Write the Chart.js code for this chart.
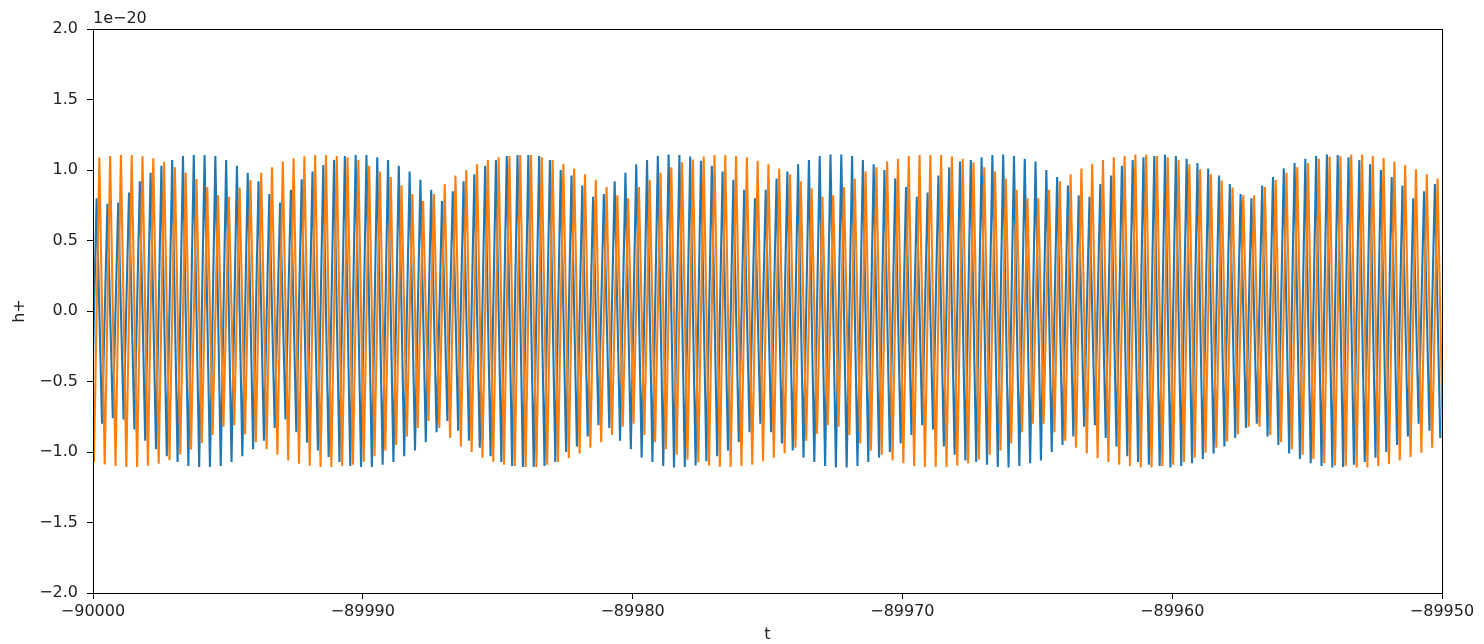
<!DOCTYPE html>
<html>
<head>
<meta charset="utf-8">
<script src="https://cdn.jsdelivr.net/npm/chart.js@4.4.1/dist/chart.umd.min.js"></script>
<style>
  html, body { margin: 0; padding: 0; background: #fff; }
  #wrap { position: relative; width: 1484px; height: 644px; }
</style>
</head>
<body>
<div id="wrap"><canvas id="chart"></canvas></div>
<script>
// time origin of the window, and the crest times of the blue wave (seconds after T0)
const T0 = -90000;
const crestT = [-0.265,
  0.135, 0.535, 0.935, 1.335, 1.735, 2.135, 2.535, 2.935, 3.335, 3.735,
  4.135, 4.535, 4.935, 5.335, 5.735, 6.135, 6.535, 6.935, 7.335, 7.735,
  8.135, 8.535, 8.935, 9.335, 9.735, 10.135, 10.535, 10.935, 11.335, 11.735,
  12.135, 12.535, 12.935, 13.335, 13.735, 14.135, 14.535, 14.935, 15.335, 15.735,
  16.135, 16.535, 16.935, 17.335, 17.735, 18.135, 18.535, 18.935, 19.335, 19.735,
  20.135, 20.535, 20.935, 21.335, 21.735, 22.135, 22.535, 22.935, 23.335, 23.735,
  24.135, 24.535, 24.935, 25.335, 25.735, 26.135, 26.535, 26.935, 27.335, 27.735,
  28.135, 28.535, 28.935, 29.335, 29.735, 30.135, 30.535, 30.935, 31.335, 31.735,
  32.135, 32.535, 32.935, 33.335, 33.735, 34.135, 34.535, 34.935, 35.335, 35.735,
  36.135, 36.535, 36.935, 37.335, 37.735, 38.135, 38.535, 38.935, 39.335, 39.735,
  40.135, 40.535, 40.935, 41.335, 41.735, 42.135, 42.535, 42.935, 43.335, 43.735,
  44.135, 44.535, 44.935, 45.335, 45.735, 46.135, 46.535, 46.935, 47.335, 47.735,
  48.135, 48.535, 48.935, 49.335, 49.735];
// orange crests come a quarter period after the blue ones
const quarter = 0.1;

// h+ crest / trough heights (units of 1e-20), one per cycle
const blueCrest = [
  0.86, 0.80, 0.76, 0.77, 0.84, 0.92, 0.98, 1.03, 1.07, 1.10,
  1.106, 1.106, 1.10, 1.07, 1.03, 0.98, 0.92, 0.83, 0.77, 0.86,
  0.935, 0.99, 1.035, 1.07, 1.10, 1.106, 1.106, 1.09, 1.07, 1.03,
  0.99, 0.93, 0.86, 0.78, 0.85, 0.92, 0.97, 1.03, 1.07, 1.10,
  1.106, 1.106, 1.10, 1.07, 1.00, 0.96, 0.89, 0.81, 0.83, 0.92,
  0.98, 1.04, 1.07, 1.10, 1.11, 1.106, 1.095, 1.065, 1.03, 0.99,
  0.93, 0.86, 0.80, 0.86, 0.94, 0.99, 1.04, 1.07, 1.10, 1.11,
  1.11, 1.10, 1.07, 1.04, 1.00, 0.94, 0.88, 0.81, 0.84, 0.96,
  1.02, 1.06, 1.07, 1.09, 1.106, 1.11, 1.10, 1.08, 1.06, 1.00,
  0.95, 0.89, 0.82, 0.81, 0.90, 0.96, 1.03, 1.07, 1.09, 1.10,
  1.11, 1.10, 1.08, 1.05, 1.01, 0.96, 0.90, 0.83, 0.80, 0.89,
  0.95, 1.01, 1.05, 1.08, 1.10, 1.11, 1.106, 1.09, 1.07, 1.04,
  1.00, 0.95, 0.89, 0.80, 0.85, 0.90];
const blueTrough = [
  -0.86, -0.80, -0.76, -0.77, -0.84, -0.92, -0.98, -1.03, -1.07, -1.10,
  -1.106, -1.106, -1.10, -1.07, -1.03, -0.98, -0.92, -0.83, -0.77, -0.86,
  -0.935, -0.99, -1.035, -1.07, -1.10, -1.106, -1.106, -1.09, -1.07, -1.03,
  -0.99, -0.93, -0.86, -0.78, -0.85, -0.92, -0.97, -1.03, -1.07, -1.10,
  -1.106, -1.106, -1.10, -1.07, -1.00, -0.96, -0.89, -0.81, -0.83, -0.92,
  -0.98, -1.04, -1.07, -1.10, -1.11, -1.106, -1.095, -1.065, -1.03, -0.99,
  -0.93, -0.86, -0.80, -0.86, -0.94, -0.99, -1.04, -1.07, -1.10, -1.11,
  -1.11, -1.10, -1.07, -1.04, -1.00, -0.94, -0.88, -0.81, -0.84, -0.96,
  -1.02, -1.06, -1.07, -1.09, -1.106, -1.11, -1.10, -1.08, -1.06, -1.00,
  -0.95, -0.89, -0.82, -0.81, -0.90, -0.96, -1.03, -1.07, -1.09, -1.10,
  -1.11, -1.10, -1.08, -1.05, -1.01, -0.96, -0.90, -0.83, -0.80, -0.89,
  -0.95, -1.01, -1.05, -1.08, -1.10, -1.11, -1.106, -1.09, -1.07, -1.04,
  -1.00, -0.95, -0.89, -0.80, -0.85, -0.90];
const orangeCrest = [
  1.07, 1.088, 1.10, 1.106, 1.106, 1.097, 1.083, 1.059, 1.02, 0.983,
  0.936, 0.88, 0.82, 0.81, 0.875, 0.93, 0.98, 1.02, 1.06, 1.083,
  1.097, 1.106, 1.106, 1.10, 1.09, 1.07, 1.03, 0.99, 0.95, 0.89,
  0.83, 0.78, 0.83, 0.90, 0.96, 1.00, 1.04, 1.07, 1.09, 1.10,
  1.106, 1.106, 1.09, 1.07, 1.045, 1.01, 0.97, 0.93, 0.88, 0.82,
  0.80, 0.88, 0.93, 0.98, 1.02, 1.055, 1.075, 1.095, 1.106, 1.106,
  1.10, 1.09, 1.065, 1.04, 1.01, 0.97, 0.92, 0.87, 0.81, 0.82,
  0.88, 0.94, 0.99, 1.02, 1.06, 1.08, 1.10, 1.106, 1.106, 1.106,
  1.095, 1.08, 1.055, 1.02, 0.99, 0.94, 0.86, 0.80, 0.80, 0.86,
  0.92, 0.97, 1.01, 1.045, 1.07, 1.09, 1.10, 1.11, 1.11, 1.10,
  1.09, 1.07, 1.04, 1.005, 0.97, 0.925, 0.875, 0.82, 0.82, 0.88,
  0.93, 0.98, 1.02, 1.05, 1.08, 1.095, 1.10, 1.11, 1.11, 1.10,
  1.085, 1.06, 1.035, 1.005, 0.97, 0.94];
const orangeTrough = [
  -1.07, -1.088, -1.10, -1.106, -1.106, -1.097, -1.083, -1.059, -1.02, -0.983,
  -0.936, -0.88, -0.82, -0.81, -0.875, -0.93, -0.98, -1.02, -1.06, -1.083,
  -1.097, -1.106, -1.106, -1.10, -1.09, -1.07, -1.03, -0.99, -0.95, -0.89,
  -0.83, -0.78, -0.83, -0.90, -0.96, -1.00, -1.04, -1.07, -1.09, -1.10,
  -1.106, -1.106, -1.09, -1.07, -1.045, -1.01, -0.97, -0.93, -0.88, -0.82,
  -0.80, -0.88, -0.93, -0.98, -1.02, -1.055, -1.075, -1.095, -1.106, -1.106,
  -1.10, -1.09, -1.065, -1.04, -1.01, -0.97, -0.92, -0.87, -0.81, -0.82,
  -0.88, -0.94, -0.99, -1.02, -1.06, -1.08, -1.10, -1.106, -1.106, -1.106,
  -1.095, -1.08, -1.055, -1.02, -0.99, -0.94, -0.86, -0.80, -0.80, -0.86,
  -0.92, -0.97, -1.01, -1.045, -1.07, -1.09, -1.10, -1.11, -1.11, -1.10,
  -1.09, -1.07, -1.04, -1.005, -0.97, -0.925, -0.875, -0.82, -0.82, -0.88,
  -0.93, -0.98, -1.02, -1.05, -1.08, -1.095, -1.10, -1.11, -1.11, -1.10,
  -1.085, -1.06, -1.035, -1.005, -0.97, -0.94];

const xTicks = [-90000, -89990, -89980, -89970, -89960, -89950];
const yTicks = [-2, -1.5, -1, -0.5, 0, 0.5, 1, 1.5, 2];

function wave(crest, trough, shift) {
  const pts = [];
  crestT.forEach((t, i) => {
    pts.push({x: T0 + t + shift, y: crest[i]});
    pts.push({x: T0 + t + shift + 2 * quarter, y: trough[i]});
  });
  return pts;
}

const minus = s => s.replace('-', '\u2212');

// axes frame and the "1e-20" offset label, like matplotlib
const framePlugin = {
  id: 'frame',
  afterDraw(chart) {
    const {ctx, chartArea: a} = chart;
    ctx.save();
    ctx.strokeStyle = '#000';
    ctx.lineWidth = 1;
    ctx.strokeRect(a.left + 0.5, a.top + 0.5, a.right - a.left, a.bottom - a.top);
    ctx.fillStyle = '#222';
    ctx.font = '16px "DejaVu Sans"';
    ctx.textBaseline = 'alphabetic';
    ctx.textAlign = 'left';
    ctx.fillText(minus('1e-20'), a.left, 23);
    ctx.restore();
  }
};

new Chart(document.getElementById('chart'), {
  type: 'line',
  data: {
    datasets: [{
      label: 'hx',
      data: wave(orangeCrest, orangeTrough, quarter),
      borderColor: '#ff7f0e',
      borderWidth: 2.1,
      pointRadius: 0,
      tension: 0,
      order: 0
    }, {
      label: 'h+',
      data: wave(blueCrest, blueTrough, 0),
      borderColor: '#1f77b4',
      borderWidth: 2.1,
      pointRadius: 0,
      tension: 0,
      order: 1
    }]
  },
  options: {
    responsive: true,
    maintainAspectRatio: false,
    animation: false,
    events: [],
    layout: { padding: { left: 0, top: 29, right: 42, bottom: 0 } },
    plugins: { legend: { display: false }, tooltip: { enabled: false } },
    scales: {
      x: {
        type: 'linear',
        min: -90000,
        max: -89950,
        afterBuildTicks: s => { s.ticks = xTicks.map(v => ({value: v})); },
        afterFit: s => { s.height = 51; },
        grid: { drawOnChartArea: false, drawTicks: true, tickLength: 6, color: '#000' },
        border: { display: false },
        ticks: {
          color: '#222',
          padding: 3,
          maxRotation: 0,
          font: { family: '"DejaVu Sans"', size: 16 },
          callback: v => minus(String(v))
        },
        title: {
          display: true,
          text: 't',
          color: '#222',
          font: { family: '"DejaVu Sans"', size: 16 },
          padding: 0
        }
      },
      y: {
        min: -2,
        max: 2,
        afterBuildTicks: s => { s.ticks = yTicks.map(v => ({value: v})); },
        afterFit: s => { s.width = 93; },
        grid: { drawOnChartArea: false, drawTicks: true, tickLength: 6, color: '#000' },
        border: { display: false },
        ticks: {
          color: '#222',
          padding: 9,
          font: { family: '"DejaVu Sans"', size: 16 },
          callback: v => minus(v.toFixed(1))
        },
        title: {
          display: true,
          text: 'h+',
          color: '#222',
          font: { family: '"DejaVu Sans"', size: 16 },
          padding: 10
        }
      }
    }
  },
  plugins: [framePlugin]
});
</script>
</body>
</html>
